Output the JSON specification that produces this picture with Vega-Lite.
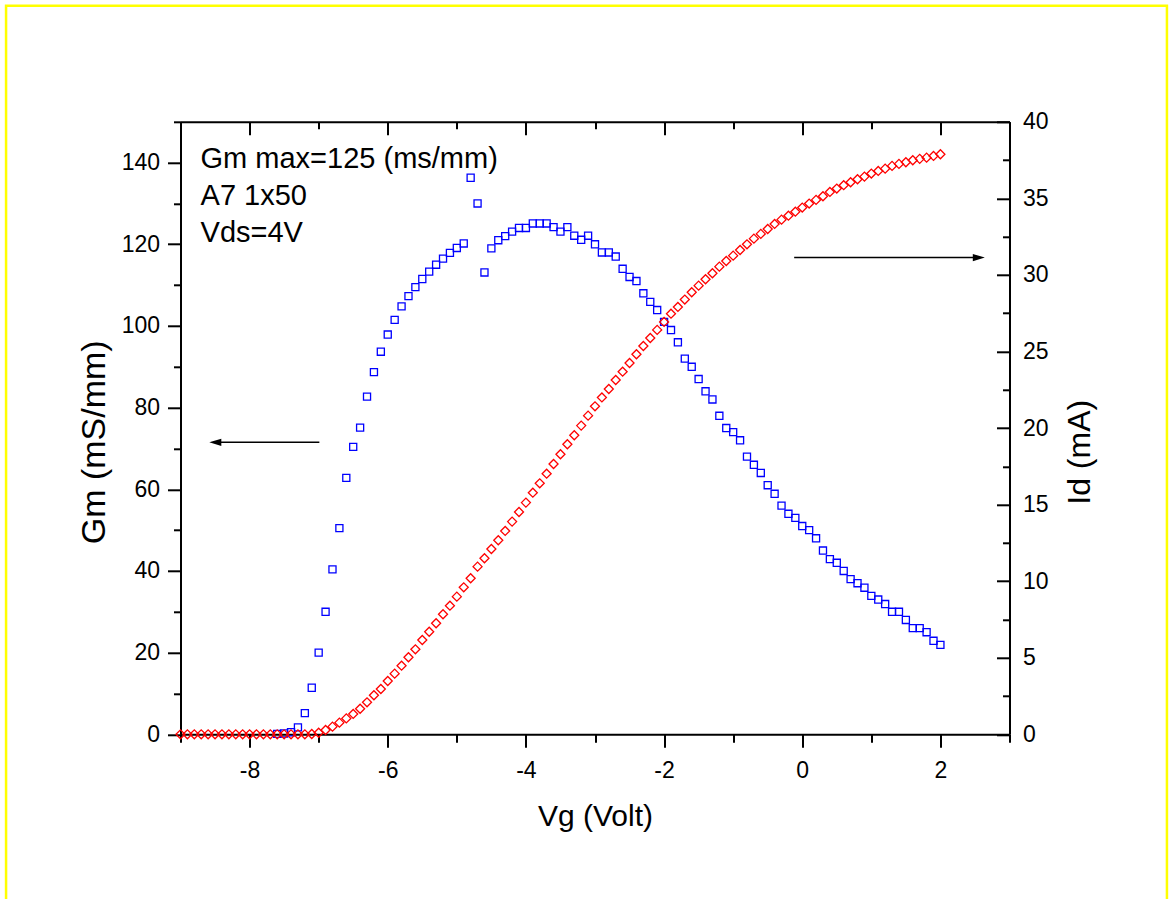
{
  "$schema": "https://vega.github.io/schema/vega-lite/v6.json",
  "width": 829,
  "height": 612.5,
  "autosize": "none",
  "padding": {"left": 180.5, "top": 121.8, "right": 161.5, "bottom": 164.7},
  "background": "white",
  "config": {
    "view": {"stroke": null},
    "font": "Liberation Sans",
    "axis": {
      "labelFont": "Liberation Sans", "labelFontSize": 23, "labelColor": "#000",
      "titleFont": "Liberation Sans", "titleFontSize": 30, "titleFontWeight": "normal", "titleColor": "#000",
      "domainColor": "#000", "tickColor": "#000", "domainWidth": 2, "tickWidth": 2,
      "grid": false, "labelFlush": false, "labelOverlap": false
    }
  },
  "datasets": {
    "gm": [
      {"vg": -7.6, "gm": 0.1}, {"vg": -7.5, "gm": 0.2}, {"vg": -7.4, "gm": 0.5}, {"vg": -7.3, "gm": 1.7},
      {"vg": -7.2, "gm": 5.2}, {"vg": -7.1, "gm": 11.4}, {"vg": -7.0, "gm": 20.0}, {"vg": -6.9, "gm": 30.0},
      {"vg": -6.8, "gm": 40.4}, {"vg": -6.7, "gm": 50.5}, {"vg": -6.6, "gm": 62.8}, {"vg": -6.5, "gm": 70.4},
      {"vg": -6.4, "gm": 75.1}, {"vg": -6.3, "gm": 82.7}, {"vg": -6.2, "gm": 88.7}, {"vg": -6.1, "gm": 93.7},
      {"vg": -6.0, "gm": 97.9}, {"vg": -5.9, "gm": 101.5}, {"vg": -5.8, "gm": 104.8}, {"vg": -5.7, "gm": 107.3},
      {"vg": -5.6, "gm": 109.5}, {"vg": -5.5, "gm": 111.5}, {"vg": -5.4, "gm": 113.3}, {"vg": -5.3, "gm": 115.0},
      {"vg": -5.2, "gm": 116.5}, {"vg": -5.1, "gm": 117.9}, {"vg": -5.0, "gm": 119.1}, {"vg": -4.9, "gm": 120.2},
      {"vg": -4.8, "gm": 136.3}, {"vg": -4.7, "gm": 130.0}, {"vg": -4.6, "gm": 113.1}, {"vg": -4.5, "gm": 119.0},
      {"vg": -4.4, "gm": 121.0}, {"vg": -4.3, "gm": 122.0}, {"vg": -4.2, "gm": 123.1}, {"vg": -4.1, "gm": 124.0},
      {"vg": -4.0, "gm": 124.0}, {"vg": -3.9, "gm": 125.1}, {"vg": -3.8, "gm": 125.1}, {"vg": -3.7, "gm": 125.1},
      {"vg": -3.6, "gm": 124.2}, {"vg": -3.5, "gm": 123.1}, {"vg": -3.4, "gm": 124.2}, {"vg": -3.3, "gm": 122.1},
      {"vg": -3.2, "gm": 121.1}, {"vg": -3.1, "gm": 122.1}, {"vg": -3.0, "gm": 120.0}, {"vg": -2.9, "gm": 118.0},
      {"vg": -2.8, "gm": 118.0}, {"vg": -2.7, "gm": 117.0}, {"vg": -2.6, "gm": 114.0}, {"vg": -2.5, "gm": 112.0},
      {"vg": -2.4, "gm": 111.0}, {"vg": -2.3, "gm": 108.0}, {"vg": -2.2, "gm": 105.9}, {"vg": -2.1, "gm": 103.9},
      {"vg": -2.0, "gm": 101.0}, {"vg": -1.9, "gm": 99.0}, {"vg": -1.8, "gm": 96.0}, {"vg": -1.7, "gm": 92.0},
      {"vg": -1.6, "gm": 90.0}, {"vg": -1.5, "gm": 87.0}, {"vg": -1.4, "gm": 84.0}, {"vg": -1.3, "gm": 82.0},
      {"vg": -1.2, "gm": 78.0}, {"vg": -1.1, "gm": 75.0}, {"vg": -1.0, "gm": 74.0}, {"vg": -0.9, "gm": 72.0},
      {"vg": -0.8, "gm": 68.0}, {"vg": -0.7, "gm": 66.0}, {"vg": -0.6, "gm": 64.0}, {"vg": -0.5, "gm": 61.0},
      {"vg": -0.4, "gm": 58.9}, {"vg": -0.3, "gm": 56.0}, {"vg": -0.2, "gm": 54.0}, {"vg": -0.1, "gm": 53.0},
      {"vg": 0.0, "gm": 51.0}, {"vg": 0.1, "gm": 50.0}, {"vg": 0.2, "gm": 48.0}, {"vg": 0.3, "gm": 45.0},
      {"vg": 0.4, "gm": 42.9}, {"vg": 0.5, "gm": 42.0}, {"vg": 0.6, "gm": 40.0}, {"vg": 0.7, "gm": 38.0},
      {"vg": 0.8, "gm": 37.0}, {"vg": 0.9, "gm": 35.9}, {"vg": 1.0, "gm": 33.9}, {"vg": 1.1, "gm": 33.0},
      {"vg": 1.2, "gm": 31.9}, {"vg": 1.3, "gm": 30.0}, {"vg": 1.4, "gm": 30.0}, {"vg": 1.5, "gm": 28.0},
      {"vg": 1.6, "gm": 26.0}, {"vg": 1.7, "gm": 26.0}, {"vg": 1.8, "gm": 25.0}, {"vg": 1.9, "gm": 22.9},
      {"vg": 2.0, "gm": 21.9}
    ],
    "id": [
      {"vg": -9.0, "id": 0}, {"vg": -8.9, "id": 0}, {"vg": -8.8, "id": 0}, {"vg": -8.7, "id": 0},
      {"vg": -8.6, "id": 0}, {"vg": -8.5, "id": 0}, {"vg": -8.4, "id": 0}, {"vg": -8.3, "id": 0},
      {"vg": -8.2, "id": 0}, {"vg": -8.1, "id": 0}, {"vg": -8.0, "id": 0}, {"vg": -7.9, "id": 0},
      {"vg": -7.8, "id": 0}, {"vg": -7.7, "id": 0}, {"vg": -7.6, "id": 0}, {"vg": -7.5, "id": 0},
      {"vg": -7.4, "id": 0}, {"vg": -7.3, "id": 0}, {"vg": -7.2, "id": 0}, {"vg": -7.1, "id": 0.02},
      {"vg": -7.0, "id": 0.1}, {"vg": -6.9, "id": 0.28}, {"vg": -6.8, "id": 0.5}, {"vg": -6.7, "id": 0.76},
      {"vg": -6.6, "id": 1.04}, {"vg": -6.5, "id": 1.33}, {"vg": -6.4, "id": 1.67}, {"vg": -6.3, "id": 2.09},
      {"vg": -6.2, "id": 2.55}, {"vg": -6.1, "id": 2.96}, {"vg": -6.0, "id": 3.48}, {"vg": -5.9, "id": 3.96},
      {"vg": -5.8, "id": 4.48}, {"vg": -5.7, "id": 5.03}, {"vg": -5.6, "id": 5.55}, {"vg": -5.5, "id": 6.16},
      {"vg": -5.4, "id": 6.70}, {"vg": -5.3, "id": 7.25}, {"vg": -5.2, "id": 7.84}, {"vg": -5.1, "id": 8.40},
      {"vg": -5.0, "id": 8.99}, {"vg": -4.9, "id": 9.60}, {"vg": -4.8, "id": 10.19}, {"vg": -4.7, "id": 10.95},
      {"vg": -4.6, "id": 11.50}, {"vg": -4.5, "id": 12.10}, {"vg": -4.4, "id": 12.67}, {"vg": -4.3, "id": 13.28},
      {"vg": -4.2, "id": 13.89}, {"vg": -4.1, "id": 14.52}, {"vg": -4.0, "id": 15.13}, {"vg": -3.9, "id": 15.78},
      {"vg": -3.8, "id": 16.39}, {"vg": -3.7, "id": 17.02}, {"vg": -3.6, "id": 17.65}, {"vg": -3.5, "id": 18.29},
      {"vg": -3.4, "id": 18.94}, {"vg": -3.3, "id": 19.53}, {"vg": -3.2, "id": 20.16}, {"vg": -3.1, "id": 20.81},
      {"vg": -3.0, "id": 21.42}, {"vg": -2.9, "id": 22.00}, {"vg": -2.8, "id": 22.55}, {"vg": -2.7, "id": 23.14},
      {"vg": -2.6, "id": 23.68}, {"vg": -2.5, "id": 24.25}, {"vg": -2.4, "id": 24.82}, {"vg": -2.3, "id": 25.36},
      {"vg": -2.2, "id": 25.88}, {"vg": -2.1, "id": 26.41}, {"vg": -2.0, "id": 26.93}, {"vg": -1.9, "id": 27.47},
      {"vg": -1.8, "id": 27.91}, {"vg": -1.7, "id": 28.39}, {"vg": -1.6, "id": 28.87}, {"vg": -1.5, "id": 29.30},
      {"vg": -1.4, "id": 29.72}, {"vg": -1.3, "id": 30.11}, {"vg": -1.2, "id": 30.54}, {"vg": -1.1, "id": 30.91},
      {"vg": -1.0, "id": 31.26}, {"vg": -0.9, "id": 31.63}, {"vg": -0.8, "id": 32.00}, {"vg": -0.7, "id": 32.37},
      {"vg": -0.6, "id": 32.68}, {"vg": -0.5, "id": 33.00}, {"vg": -0.4, "id": 33.33}, {"vg": -0.3, "id": 33.61},
      {"vg": -0.2, "id": 33.87}, {"vg": -0.1, "id": 34.13}, {"vg": 0.0, "id": 34.40}, {"vg": 0.1, "id": 34.66},
      {"vg": 0.2, "id": 34.90}, {"vg": 0.3, "id": 35.14}, {"vg": 0.4, "id": 35.42}, {"vg": 0.5, "id": 35.64},
      {"vg": 0.6, "id": 35.86}, {"vg": 0.7, "id": 36.05}, {"vg": 0.8, "id": 36.25}, {"vg": 0.9, "id": 36.42},
      {"vg": 1.0, "id": 36.62}, {"vg": 1.1, "id": 36.79}, {"vg": 1.2, "id": 36.94}, {"vg": 1.3, "id": 37.12},
      {"vg": 1.4, "id": 37.25}, {"vg": 1.5, "id": 37.36}, {"vg": 1.6, "id": 37.49}, {"vg": 1.7, "id": 37.58},
      {"vg": 1.8, "id": 37.66}, {"vg": 1.9, "id": 37.77}, {"vg": 2.0, "id": 37.88}
    ],
    "notes": [
      {"label": "Gm max=125 (ms/mm)", "vg": -8.71, "gm": 138.6},
      {"label": "A7 1x50", "vg": -8.71, "gm": 129.6},
      {"label": "Vds=4V", "vg": -8.71, "gm": 120.6}
    ]
  },
  "resolve": {"scale": {"y": "independent"}, "axis": {"x": "independent", "y": "independent"}},
  "layer": [
    {
      "data": {"values": [{}]},
      "mark": {"type": "rect", "fill": "transparent", "stroke": "#FFFF00", "strokeWidth": 2.5, "clip": false},
      "encoding": {
        "x": {"datum": -11.525, "type": "quantitative", "scale": {"domain": [-9, 3], "nice": false, "zero": false}, "axis": null},
        "x2": {"datum": 5.279},
        "y": {"datum": 178.4, "type": "quantitative", "scale": {"domain": [0, 150], "nice": false, "zero": false}, "axis": null},
        "y2": {"datum": -45}
      }
    },
    {
      "data": {"name": "gm"},
      "mark": {"type": "point", "shape": "square", "filled": false, "stroke": "#0000FF", "strokeWidth": 1.3, "size": 50, "opacity": 1},
      "encoding": {
        "x": {"field": "vg", "type": "quantitative", "scale": {"domain": [-9, 3], "nice": false, "zero": false},
              "axis": {"orient": "bottom", "values": [-8, -6, -4, -2, 0, 2], "labelExpr": "'' + datum.value", "tickSize": 13, "labelPadding": 12, "title": "Vg (Volt)", "titlePadding": 19}},
        "y": {"field": "gm", "type": "quantitative", "scale": {"domain": [0, 150], "nice": false, "zero": false},
              "axis": {"orient": "left", "values": [0, 20, 40, 60, 80, 100, 120, 140], "tickSize": 13, "labelPadding": 8, "title": "Gm (mS/mm)", "titleFontSize": 34, "titleY": 320, "titlePadding": 10}}
      }
    },
    {
      "data": {"name": "notes"},
      "mark": {"type": "text", "align": "left", "baseline": "alphabetic", "font": "Liberation Sans", "fontSize": 29, "color": "#000"},
      "encoding": {
        "x": {"field": "vg", "type": "quantitative", "scale": {"domain": [-9, 3], "nice": false, "zero": false},
              "axis": {"orient": "bottom", "values": [-9, -7, -5, -3, -1, 1, 3], "tickSize": 8, "labels": false, "domain": false, "title": null}},
        "y": {"field": "gm", "type": "quantitative", "scale": {"domain": [0, 150], "nice": false, "zero": false},
              "axis": {"orient": "left", "values": [10, 30, 50, 70, 90, 110, 130, 150], "tickSize": 7, "labels": false, "domain": false, "title": null}},
        "text": {"field": "label"}
      }
    },
    {
      "data": {"values": [{}]},
      "mark": {"type": "rule", "stroke": "#000", "strokeWidth": 1.5},
      "encoding": {
        "x": {"datum": -6.99, "type": "quantitative", "scale": {"domain": [-9, 3], "nice": false, "zero": false}, "axis": null},
        "x2": {"datum": -8.5},
        "y": {"datum": 71.5, "type": "quantitative", "scale": {"domain": [0, 150], "nice": false, "zero": false}, "axis": null}
      }
    },
    {
      "data": {"values": [{}]},
      "mark": {"type": "point", "shape": "M0,0L2,-0.6L2,0.6Z", "filled": true, "fill": "#000", "stroke": null, "size": 144, "opacity": 1},
      "encoding": {
        "x": {"datum": -8.583, "type": "quantitative", "scale": {"domain": [-9, 3], "nice": false, "zero": false}, "axis": null},
        "y": {"datum": 71.5, "type": "quantitative", "scale": {"domain": [0, 150], "nice": false, "zero": false}, "axis": null}
      }
    },
    {
      "data": {"values": [{}]},
      "mark": {"type": "rule", "stroke": "#000", "strokeWidth": 1.5},
      "encoding": {
        "x": {"datum": -0.117, "type": "quantitative", "scale": {"domain": [-9, 3], "nice": false, "zero": false},
              "axis": {"orient": "top", "values": [-9, -7, -5, -3, -1, 1, 3], "tickSize": -7, "labels": false, "domain": false, "title": null}},
        "x2": {"datum": 2.56},
        "y": {"datum": 31.13, "type": "quantitative", "scale": {"domain": [0, 40], "nice": false, "zero": false},
              "axis": {"orient": "right", "values": [2.5, 7.5, 12.5, 17.5, 22.5, 27.5, 32.5, 37.5], "tickSize": -7, "labels": false, "domain": false, "title": null}}
      }
    },
    {
      "data": {"values": [{}]},
      "mark": {"type": "point", "shape": "M0,0L-2,-0.6L-2,0.6Z", "filled": true, "fill": "#000", "stroke": null, "size": 144, "opacity": 1},
      "encoding": {
        "x": {"datum": 2.643, "type": "quantitative", "scale": {"domain": [-9, 3], "nice": false, "zero": false}, "axis": null},
        "y": {"datum": 31.13, "type": "quantitative", "scale": {"domain": [0, 40], "nice": false, "zero": false}, "axis": null}
      }
    },
    {
      "data": {"name": "id"},
      "mark": {"type": "point", "shape": "diamond", "filled": false, "stroke": "#FF0000", "strokeWidth": 1.3, "size": 81, "opacity": 1},
      "encoding": {
        "x": {"field": "vg", "type": "quantitative", "scale": {"domain": [-9, 3], "nice": false, "zero": false},
              "axis": {"orient": "top", "values": [-8, -6, -4, -2, 0, 2], "tickSize": -13, "labels": false, "title": null}},
        "y": {"field": "id", "type": "quantitative", "scale": {"domain": [0, 40], "nice": false, "zero": false},
              "axis": {"orient": "right", "values": [0, 5, 10, 15, 20, 25, 30, 35, 40], "tickSize": -13, "labelPadding": 26, "title": "Id (mA)", "titleFontSize": 32, "titleY": 330, "titleAngle": 270, "titleBaseline": "top", "titlePadding": 16}}
      }
    }
  ]
}
